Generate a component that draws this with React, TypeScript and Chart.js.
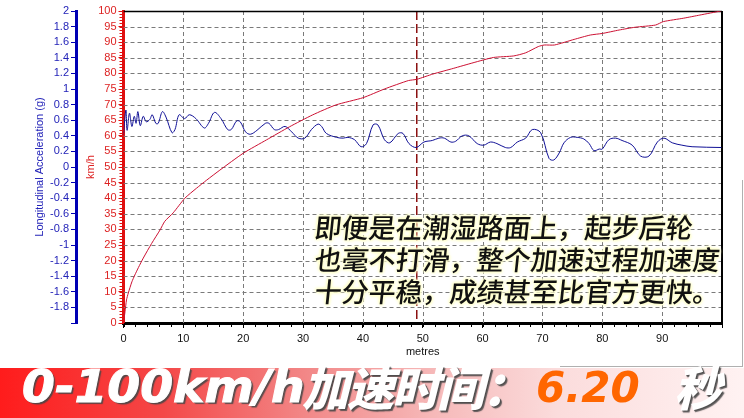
import { useEffect, useRef } from 'react';
import { Chart, registerables } from 'chart.js';

Chart.register(...registerables);

// ---- data ----
const speedDistance = [0, 0.25, 0.5, 0.8, 1.4, 1.9, 2.5, 3.3, 4.7, 6.1, 6.9, 8.3, 10.25, 12.2, 13.9, 16.1, 20, 23.9, 27.75, 31.6, 35.5, 40, 43.6, 47.6, 49, 51.7, 55.1, 58.4, 61.8, 65.2, 67.2, 69.3, 70.3, 72, 75.3, 78, 80, 82.8, 85.5, 88.9, 90.2, 93.6, 96.3, 99.8];
const speedKmh = [0, 3.6, 7.4, 9.6, 13.2, 15.4, 17.8, 20.8, 25.5, 29.8, 32.6, 35.3, 40, 43.2, 45.8, 49, 54.4, 58.7, 62.9, 66.7, 69.9, 72.2, 75.0, 77.7, 78.1, 79.8, 81.6, 83.4, 85.1, 85.6, 86.6, 88.6, 89.1, 89.1, 90.9, 92.3, 92.8, 93.9, 94.8, 95.5, 96.6, 97.7, 98.7, 100];

const accelDistance = [0, 0.4, 0.6, 1, 1.4, 1.8, 2.1, 2.4, 2.8, 3.3, 3.8, 4.4, 4.8, 5.4, 5.8, 6.5, 7.1, 8.1, 8.6, 9.3, 10.2, 11, 12.1, 13.5, 14.2, 15.2, 16.3, 17.4, 18, 18.9, 19.5, 20.4, 21.2, 22.3, 23.7, 24.3, 25.2, 25.9, 27, 28.1, 29.2, 30.3, 31.4, 32.5, 33.1, 33.9, 35.6, 36.7, 37.5, 38.6, 39.7, 40.6, 41.7, 42.5, 43.6, 44.5, 45.9, 46.7, 47.7, 48.9, 50.2, 51.6, 52.7, 53.6, 54.7, 55.5, 56.6, 57.7, 59.1, 60.2, 61.3, 62.4, 63.8, 64.7, 65.8, 67.2, 68.3, 69.7, 71.1, 71.9, 72.8, 73.6, 74.7, 75.8, 76.9, 77.8, 78.6, 79.5, 80, 81.1, 82.2, 83.3, 85, 86.4, 87.8, 89.2, 90.3, 91.7, 93.3, 95, 99.9];
const accelG = [0.41, 0.73, 0.47, 0.69, 0.52, 0.65, 0.56, 0.71, 0.53, 0.65, 0.58, 0.61, 0.67, 0.56, 0.56, 0.71, 0.64, 0.44, 0.48, 0.67, 0.62, 0.67, 0.62, 0.5, 0.56, 0.7, 0.62, 0.48, 0.48, 0.59, 0.58, 0.45, 0.42, 0.47, 0.56, 0.56, 0.48, 0.48, 0.52, 0.45, 0.37, 0.37, 0.48, 0.55, 0.52, 0.43, 0.38, 0.37, 0.38, 0.35, 0.26, 0.3, 0.54, 0.54, 0.35, 0.31, 0.43, 0.43, 0.3, 0.25, 0.32, 0.34, 0.37, 0.37, 0.32, 0.33, 0.4, 0.4, 0.3, 0.28, 0.32, 0.3, 0.25, 0.25, 0.32, 0.37, 0.48, 0.44, 0.11, 0.09, 0.18, 0.31, 0.38, 0.38, 0.36, 0.3, 0.21, 0.23, 0.23, 0.35, 0.37, 0.34, 0.28, 0.14, 0.14, 0.32, 0.37, 0.31, 0.28, 0.26, 0.25];

const distanceRange = [0, 100];
const distanceStep = 10;
const speedRange = [0, 100];
const speedStep = 5;
const accelRange = [-2, 2];
const accelStep = 0.2;
const markerDistance = 49;

const xTitle = 'metres';
const speedTitle = 'km/h';
const accelTitle = 'Longitudinal Acceleration (g)';

const noteLines = [
  '即便是在潮湿路面上，起步后轮',
  '也毫不打滑，整个加速过程加速度',
  '十分平稳，成绩甚至比官方更快。',
];
const bannerLabel = '0-100km/h';
const bannerCjk = '加速时间：';
const bannerValue = '6.20';
const bannerUnit = '秒';

// ---- styles ----
const RED_AXIS = '#e01010';
const RED_TEXT = '#dd2222';
const BLUE_AXIS = '#0000b4';
const BLUE_TEXT = '#2323b8';
const RED_LINE = '#cc1133';
const BLUE_LINE = '#101096';
const GRID = '#7a7a7a';

const framePlugin = {
  id: 'frame',
  beforeDatasetsDraw(chart: any) {
    const { ctx, chartArea: a, scales } = chart;
    ctx.save();
    ctx.strokeStyle = GRID;
    ctx.lineWidth = 1;
    ctx.setLineDash([4, 3]);
    for (const t of scales.x.ticks) {
      if (t.value <= distanceRange[0] || t.value >= distanceRange[1]) continue;
      const p = Math.round(scales.x.getPixelForValue(t.value)) + 0.5;
      ctx.beginPath();
      ctx.moveTo(p, a.top);
      ctx.lineTo(p, a.bottom);
      ctx.stroke();
    }
    for (const t of scales.y.ticks) {
      if (t.value <= speedRange[0] || t.value >= speedRange[1]) continue;
      const p = Math.round(scales.y.getPixelForValue(t.value)) + 0.5;
      ctx.beginPath();
      ctx.moveTo(a.left, p);
      ctx.lineTo(a.right, p);
      ctx.stroke();
    }
    const px = scales.x.getPixelForValue(markerDistance);
    ctx.strokeStyle = '#8b1010';
    ctx.lineWidth = 1.5;
    ctx.setLineDash([9, 4]);
    ctx.beginPath();
    ctx.moveTo(px, a.top);
    ctx.lineTo(px, a.bottom);
    ctx.stroke();
    ctx.setLineDash([]);
    ctx.strokeStyle = '#000';
    ctx.lineWidth = 1.5;
    ctx.beginPath();
    ctx.moveTo(a.left, a.top + 0.5);
    ctx.lineTo(a.right, a.top + 0.5);
    ctx.stroke();
    ctx.lineWidth = 2;
    ctx.beginPath();
    ctx.moveTo(a.right, a.top);
    ctx.lineTo(a.right, a.bottom);
    ctx.stroke();
    ctx.restore();
  },
  afterDraw(chart: any) {
    const { ctx, chartArea: a, scales } = chart;
    const ys = scales.y;
    const as = scales.acc;
    const xs = scales.x;
    ctx.save();
    ctx.lineWidth = 1;
    ctx.strokeStyle = RED_AXIS;
    for (let v = speedRange[0]; v <= speedRange[1]; v += 1) {
      const p = Math.round(ys.getPixelForValue(v)) + 0.5;
      ctx.beginPath();
      ctx.moveTo(a.left - 4, p);
      ctx.lineTo(a.left, p);
      ctx.stroke();
    }
    ctx.strokeStyle = BLUE_AXIS;
    for (let i = 0; i <= 80; i++) {
      const v = accelRange[0] + i * 0.05;
      const p = Math.round(as.getPixelForValue(v)) + 0.5;
      ctx.beginPath();
      ctx.moveTo(as.right - 1, p);
      ctx.lineTo(as.right + 2, p);
      ctx.stroke();
    }
    ctx.strokeStyle = '#000';
    for (let v = distanceRange[0]; v <= distanceRange[1]; v += 2) {
      const p = Math.round(xs.getPixelForValue(v)) + 0.5;
      ctx.beginPath();
      ctx.moveTo(p, a.bottom);
      ctx.lineTo(p, a.bottom + 4);
      ctx.stroke();
    }
    ctx.restore();
  },
};

const whiteShadow = '2px 2px 1px rgba(70,70,70,0.85), 1px 1px 0 rgba(90,90,90,0.7)';
const glow = '0 0 2px #ffffd0, 0 0 3px #ffffd0, 0 0 4px #ffffc8, 1px 1px 3px #ffffc8, -1px -1px 3px #ffffc8';

export default function App() {
  const ref = useRef<HTMLCanvasElement>(null);

  useEffect(() => {
    const canvas = ref.current;
    if (!canvas) return;
    Chart.defaults.font.family = "'Liberation Sans', Arial, sans-serif";
    const chart = new Chart(canvas, {
      type: 'line',
      data: {
        datasets: [
          {
            label: 'Speed',
            data: speedDistance.map((d, i) => ({ x: d, y: speedKmh[i] })),
            yAxisID: 'y',
            borderColor: RED_LINE,
            borderWidth: 1,
            pointRadius: 0,
            tension: 0.2,
            fill: false,
          },
          {
            label: 'Acceleration',
            data: accelDistance.map((d, i) => ({ x: d, y: accelG[i] })),
            yAxisID: 'acc',
            borderColor: BLUE_LINE,
            borderWidth: 1,
            pointRadius: 0,
            tension: 0.35,
            fill: false,
          },
        ],
      },
      options: {
        responsive: false,
        animation: false,
        devicePixelRatio: 1,
        layout: { padding: { left: 0, top: 11, right: 22, bottom: 55 } },
        plugins: { legend: { display: false }, tooltip: { enabled: false } },
        scales: {
          x: {
            type: 'linear',
            min: distanceRange[0],
            max: distanceRange[1],
            ticks: {
              stepSize: distanceStep,
              autoSkip: false,
              maxRotation: 0,
              color: '#111',
              font: { size: 11 },
              padding: 4,
              callback: (v: any) => (v === distanceRange[1] ? '' : String(v)),
            },
            grid: {
              drawOnChartArea: false,
              color: '#000',
              tickColor: '#000',
              tickLength: 5,
            },
            border: { display: true, color: '#000', width: 3 },
            title: { display: true, text: xTitle, color: '#111', font: { size: 11 }, padding: { top: 0, bottom: 4 } },
            afterFit: (s: any) => {
              s.height = 40;
            },
          },
          y: {
            type: 'linear',
            position: 'left',
            weight: 0,
            min: speedRange[0],
            max: speedRange[1],
            ticks: {
              stepSize: speedStep,
              autoSkip: false,
              color: RED_TEXT,
              font: { size: 11 },
              padding: 2,
            },
            grid: {
              drawOnChartArea: false,
              color: RED_AXIS,
              tickColor: RED_AXIS,
              tickLength: 5,
            },
            border: { display: true, color: RED_AXIS, width: 3 },
            title: { display: true, text: speedTitle, color: RED_TEXT, font: { size: 11 }, padding: { top: 8, bottom: 0 } },
            afterFit: (s: any) => {
              s.width = 47.5;
            },
          },
          acc: {
            type: 'linear',
            position: 'left',
            weight: 1,
            min: accelRange[0],
            max: accelRange[1],
            ticks: {
              stepSize: accelStep,
              autoSkip: false,
              color: BLUE_TEXT,
              font: { size: 11 },
              padding: 2,
              callback: (v: any) => {
                if (Math.abs(v - accelRange[0]) < 1e-6) return '';
                return String(Number(Number(v).toFixed(1)));
              },
            },
            grid: {
              drawOnChartArea: false,
              color: BLUE_AXIS,
              tickColor: BLUE_AXIS,
              tickLength: 5,
            },
            border: { display: true, color: BLUE_AXIS, width: 3 },
            title: { display: true, text: accelTitle, color: BLUE_TEXT, font: { size: 11 }, padding: { top: 33, bottom: 0 } },
            afterFit: (s: any) => {
              s.width = 76;
            },
          },
        },
      } as any,
      plugins: [framePlugin],
    });
    return () => chart.destroy();
  }, []);

  const cjkFont = "'Noto Sans CJK SC', sans-serif";
  const latinFont = "'DejaVu Sans', sans-serif";

  return (
    <div
      style={{
        position: 'fixed',
        left: 0,
        top: 0,
        width: 744,
        height: 418,
        background: '#fff',
        overflow: 'hidden',
      }}
    >
      <canvas ref={ref} width={744} height={418} style={{ position: 'absolute', left: 0, top: 0, width: 744, height: 418 }} />

      {noteLines.map((t, i) => (
        <div
          key={i}
          style={{
            position: 'absolute',
            left: 313,
            top: 210 + i * 32,
            fontFamily: cjkFont,
            fontSize: 27,
            lineHeight: '34px',
            fontWeight: 500,
            color: '#111',
            whiteSpace: 'nowrap',
            textShadow: glow,
            transform: 'skewX(-6deg)',
            transformOrigin: 'left bottom',
          }}
        >
          {t}
        </div>
      ))}

      <div style={{ position: 'absolute', left: 560, top: 366, width: 183, height: 1, background: '#b0b0b0' }} />
      <div style={{ position: 'absolute', left: 742, top: 180, width: 1, height: 187, background: '#b0b0b0' }} />

      <div
        style={{
          position: 'absolute',
          left: 0,
          top: 368,
          width: 744,
          height: 50,
          background: 'linear-gradient(to right, #ff1c1c 0%, #f44848 22%, #f28a8a 42%, #f6b8b8 58%, #fbdcdc 75%, #fff2f2 100%)',
        }}
      />
      <div
        style={{
          position: 'absolute',
          left: 22,
          top: 364,
          fontFamily: latinFont,
          fontWeight: 'bold',
          fontStyle: 'italic',
          fontSize: 45,
          lineHeight: '45px',
          color: '#fff',
          whiteSpace: 'nowrap',
          textShadow: whiteShadow,
          WebkitTextStroke: '1px #fff',
          transform: 'scaleX(1.05)',
          transformOrigin: 'left center',
        }}
      >
        {bannerLabel}
      </div>
      <div
        style={{
          position: 'absolute',
          left: 302,
          top: 362,
          fontFamily: cjkFont,
          fontWeight: 900,
          fontStyle: 'italic',
          fontSize: 47,
          lineHeight: '47px',
          color: '#fff',
          whiteSpace: 'nowrap',
          textShadow: whiteShadow,
          letterSpacing: -2,
        }}
      >
        {bannerCjk}
      </div>
      <div
        style={{
          position: 'absolute',
          left: 536,
          top: 365,
          fontFamily: latinFont,
          fontWeight: 'bold',
          fontStyle: 'italic',
          fontSize: 42,
          lineHeight: '45px',
          color: '#ff6600',
          whiteSpace: 'nowrap',
        }}
      >
        {bannerValue}
      </div>
      <div
        style={{
          position: 'absolute',
          left: 674,
          top: 362,
          fontFamily: cjkFont,
          fontWeight: 900,
          fontStyle: 'italic',
          fontSize: 47,
          lineHeight: '47px',
          color: '#fff',
          whiteSpace: 'nowrap',
          textShadow: whiteShadow,
        }}
      >
        {bannerUnit}
      </div>
    </div>
  );
}
